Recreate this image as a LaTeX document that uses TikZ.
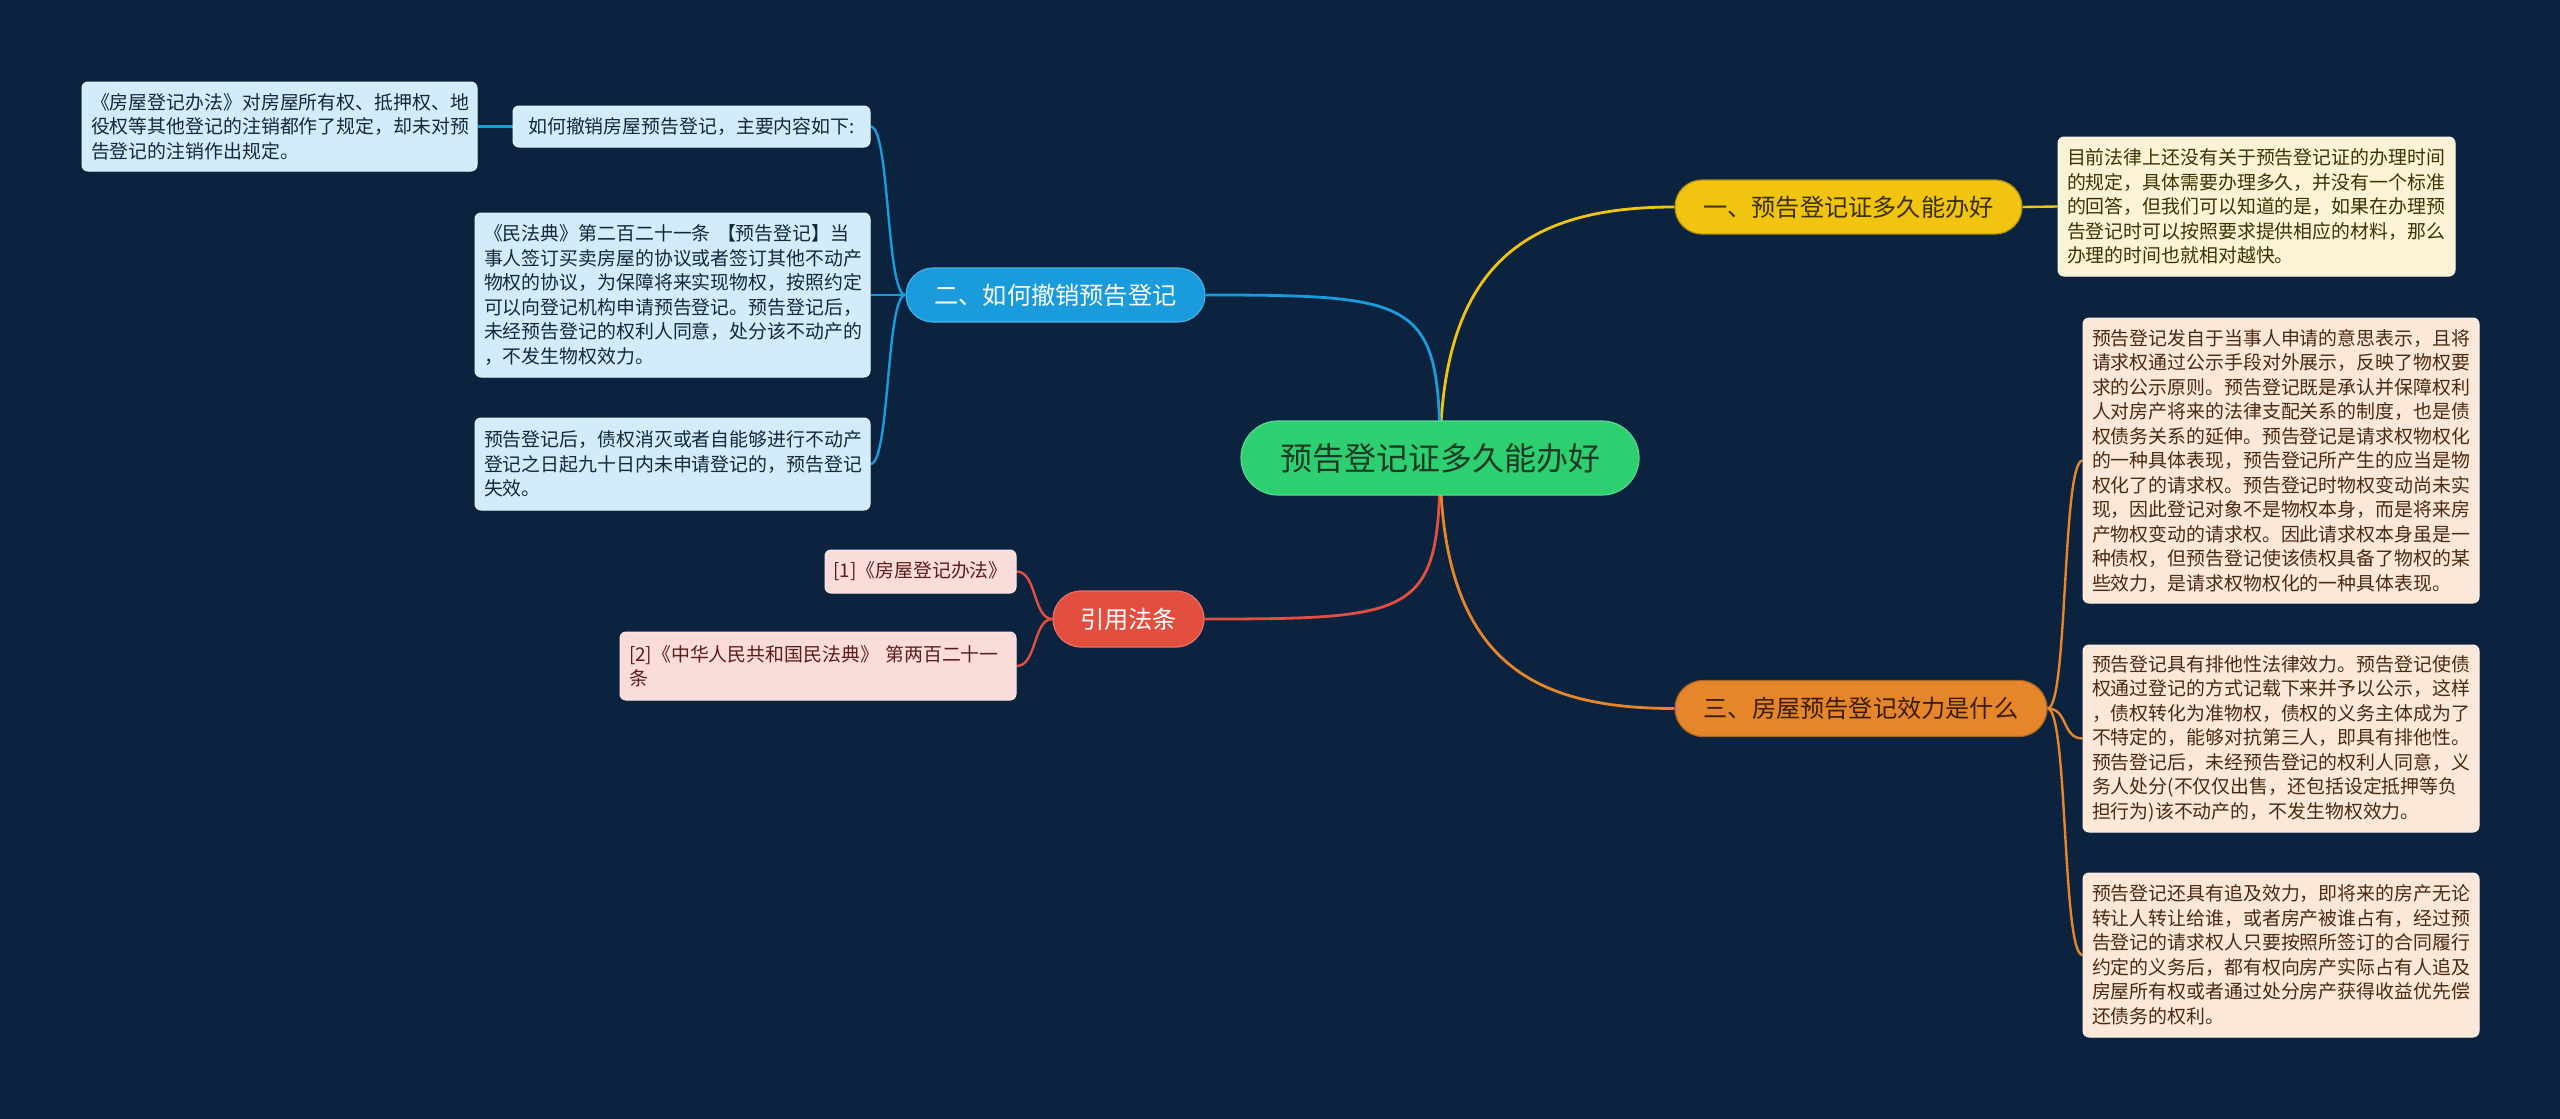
\documentclass[tikz,border=0pt]{standalone}
\usepackage{fontspec}
\newfontfamily\cjk{Noto Sans CJK SC}
\pgfdeclarelayer{bg}
\pgfdeclarelayer{edges}
\pgfsetlayers{bg,edges,main}
\definecolor{bgc}{HTML}{0C2340}
\definecolor{cG}{HTML}{2ECF70}
\definecolor{cGt}{HTML}{1B3A24}
\definecolor{cY}{HTML}{F1C40F}
\definecolor{cYt}{HTML}{3A2F00}
\definecolor{cO}{HTML}{E6862A}
\definecolor{cOt}{HTML}{3A1C05}
\definecolor{cB}{HTML}{1A9BDC}
\definecolor{cR}{HTML}{E34F3E}
\definecolor{lY}{HTML}{FBF3D5}
\definecolor{lO}{HTML}{FBE8D9}
\definecolor{lB}{HTML}{D2ECF9}
\definecolor{lR}{HTML}{FADCD9}
\definecolor{tY}{HTML}{3D3300}
\definecolor{tO}{HTML}{4A2A10}
\definecolor{tB}{HTML}{14283A}
\definecolor{tR}{HTML}{5A1E1A}
\tikzset{
  trunk/.style={line width=2.8pt},
  twig/.style={line width=2.4pt},
  branchbox/.style={rectangle, inner sep=0pt, line width=1.2pt, font=\cjk\fontsize{24.2}{30}\selectfont},
  leafbox/.style={rectangle, rounded corners=6pt, inner xsep=9pt, inner ysep=0pt, align=left,
    line width=1pt, font=\cjk\fontsize{18.9}{24.5}\selectfont},
  oneline/.style={rectangle, rounded corners=6pt, inner sep=0pt, align=center,
    line width=1pt, font=\cjk\fontsize{18.9}{24.5}\selectfont}
}
\begin{document}
\begin{tikzpicture}[x=1pt,y=-1pt]
\begin{pgfonlayer}{bg}
\fill[bgc] (0,0) rectangle (2560,1119);
\end{pgfonlayer}
\useasboundingbox (0,0) rectangle (2560,1119);

% central
\node[rectangle, rounded corners=37pt, fill=cG, draw=cG!80!white, line width=1.2pt,
  minimum width=398pt, minimum height=74pt, inner sep=0pt, text=cGt,
  font=\cjk\fontsize{32}{38}\selectfont] (c) at (1440,458) {预告登记证多久能办好};

% branches
\node[branchbox, rounded corners=27pt, fill=cY, draw=cY!75!black, text=cYt,
  minimum width=347pt, minimum height=54pt] (y) at (1848.5,207) {一、预告登记证多久能办好};
\node[branchbox, rounded corners=28pt, fill=cO, draw=cO!75!black, text=cOt,
  minimum width=372pt, minimum height=56pt] (o) at (1861,708.5) {三、房屋预告登记效力是什么};
\node[branchbox, rounded corners=27pt, fill=cB, draw=cB!80!white, text=white,
  minimum width=299pt, minimum height=54pt] (b) at (1055.5,295) {二、如何撤销预告登记};
\node[branchbox, rounded corners=28pt, fill=cR, draw=cR!80!white, text=white,
  minimum width=151pt, minimum height=56pt] (r) at (1128.5,619) {引用法条};

% yellow leaf
\node[leafbox, fill=lY, draw=lY!60!white, text=tY, text width=379pt, minimum height=139pt]
  (yl) at (2256.5,206.5) {目前法律上还没有关于预告登记证的办理时间\\的规定，具体需要办理多久，并没有一个标准\\的回答，但我们可以知道的是，如果在办理预\\告登记时可以按照要求提供相应的材料，那么\\办理的时间也就相对越快。};

% orange leaves
\node[leafbox, fill=lO, draw=lO!60!white, text=tO, text width=378pt, minimum height=285pt]
  (ol1) at (2281,460.5) {预告登记发自于当事人申请的意思表示，且将\\请求权通过公示手段对外展示，反映了物权要\\求的公示原则。预告登记既是承认并保障权利\\人对房产将来的法律支配关系的制度，也是债\\权债务关系的延伸。预告登记是请求权物权化\\的一种具体表现，预告登记所产生的应当是物\\权化了的请求权。预告登记时物权变动尚未实\\现，因此登记对象不是物权本身，而是将来房\\产物权变动的请求权。因此请求权本身虽是一\\种债权，但预告登记使该债权具备了物权的某\\些效力，是请求权物权化的一种具体表现。};
\node[leafbox, fill=lO, draw=lO!60!white, text=tO, text width=378pt, minimum height=187pt]
  (ol2) at (2281,738.5) {预告登记具有排他性法律效力。预告登记使债\\权通过登记的方式记载下来并予以公示，这样\\，债权转化为准物权，债权的义务主体成为了\\不特定的，能够对抗第三人，即具有排他性。\\预告登记后，未经预告登记的权利人同意，义\\务人处分(不仅仅出售，还包括设定抵押等负\\担行为)该不动产的，不发生物权效力。};
\node[leafbox, fill=lO, draw=lO!60!white, text=tO, text width=378pt, minimum height=164pt]
  (ol3) at (2281,955) {预告登记还具有追及效力，即将来的房产无论\\转让人转让给谁，或者房产被谁占有，经过预\\告登记的请求权人只要按照所签订的合同履行\\约定的义务后，都有权向房产实际占有人追及\\房屋所有权或者通过处分房产获得收益优先偿\\还债务的权利。};

% blue leaves
\node[oneline, fill=lB, draw=lB!60!white, text=tB, minimum width=357pt, minimum height=41pt]
  (bl1) at (691.5,126.5) {如何撤销房屋预告登记，主要内容如下:};
\node[leafbox, fill=lB, draw=lB!60!white, text=tB, text width=377pt, minimum height=89pt]
  (bl0) at (279.5,126.5) {《房屋登记办法》对房屋所有权、抵押权、地\\役权等其他登记的注销都作了规定，却未对预\\告登记的注销作出规定。};
\node[leafbox, fill=lB, draw=lB!60!white, text=tB, text width=377pt, minimum height=164pt]
  (bl2) at (672.5,295) {《民法典》第二百二十一条 【预告登记】当\\事人签订买卖房屋的协议或者签订其他不动产\\物权的协议，为保障将来实现物权，按照约定\\可以向登记机构申请预告登记。预告登记后，\\未经预告登记的权利人同意，处分该不动产的\\，不发生物权效力。};
\node[leafbox, fill=lB, draw=lB!60!white, text=tB, text width=377pt, minimum height=92pt]
  (bl3) at (672.5,464) {预告登记后，债权消灭或者自能够进行不动产\\登记之日起九十日内未申请登记的，预告登记\\失效。};

% red leaves
\node[oneline, fill=lR, draw=lR!60!white, text=tR, minimum width=191pt, minimum height=43pt]
  (rl1) at (920.5,571.5) {[1]《房屋登记办法》};
\node[leafbox, fill=lR, draw=lR!60!white, text=tR, text width=378pt, minimum height=68pt]
  (rl2) at (818,666) {[2]《中华人民共和国民法典》 第两百二十一\\条};

% connectors
\begin{pgfonlayer}{edges}
\draw[trunk, cY] (c.center) .. controls (1440,260) and (1530,207) .. (y.west);
\draw[trunk, cB] (c.center) .. controls (1440,300) and (1420,295) .. (b.east);
\draw[trunk, cR] (c.center) .. controls (1440,615) and (1420,619) .. (r.east);
\draw[trunk, cO] (c.center) .. controls (1440,660) and (1530,708.5) .. (o.west);

\draw[twig, cY] (y.east) -- (yl.west);
\draw[twig, cO] (o.east) .. controls (2068,708.5) and (2062,460.5) .. (ol1.west);
\draw[twig, cO] (o.east) .. controls (2068,708.5) and (2062,738.5) .. (ol2.west);
\draw[twig, cO] (o.east) .. controls (2068,708.5) and (2062,955) .. (ol3.west);

\draw[twig, cB] (b.west) .. controls (886,295) and (890,126.5) .. (bl1.east);
\draw[twig, cB] (b.west) -- (bl2.east);
\draw[twig, cB] (b.west) .. controls (886,295) and (890,464) .. (bl3.east);
\draw[twig, cB] (bl1.west) -- (bl0.east);

\draw[twig, cR] (r.west) .. controls (1033,619) and (1037,571.5) .. (rl1.east);
\draw[twig, cR] (r.west) .. controls (1033,619) and (1037,666) .. (rl2.east);
\end{pgfonlayer}
\end{tikzpicture}
\end{document}
